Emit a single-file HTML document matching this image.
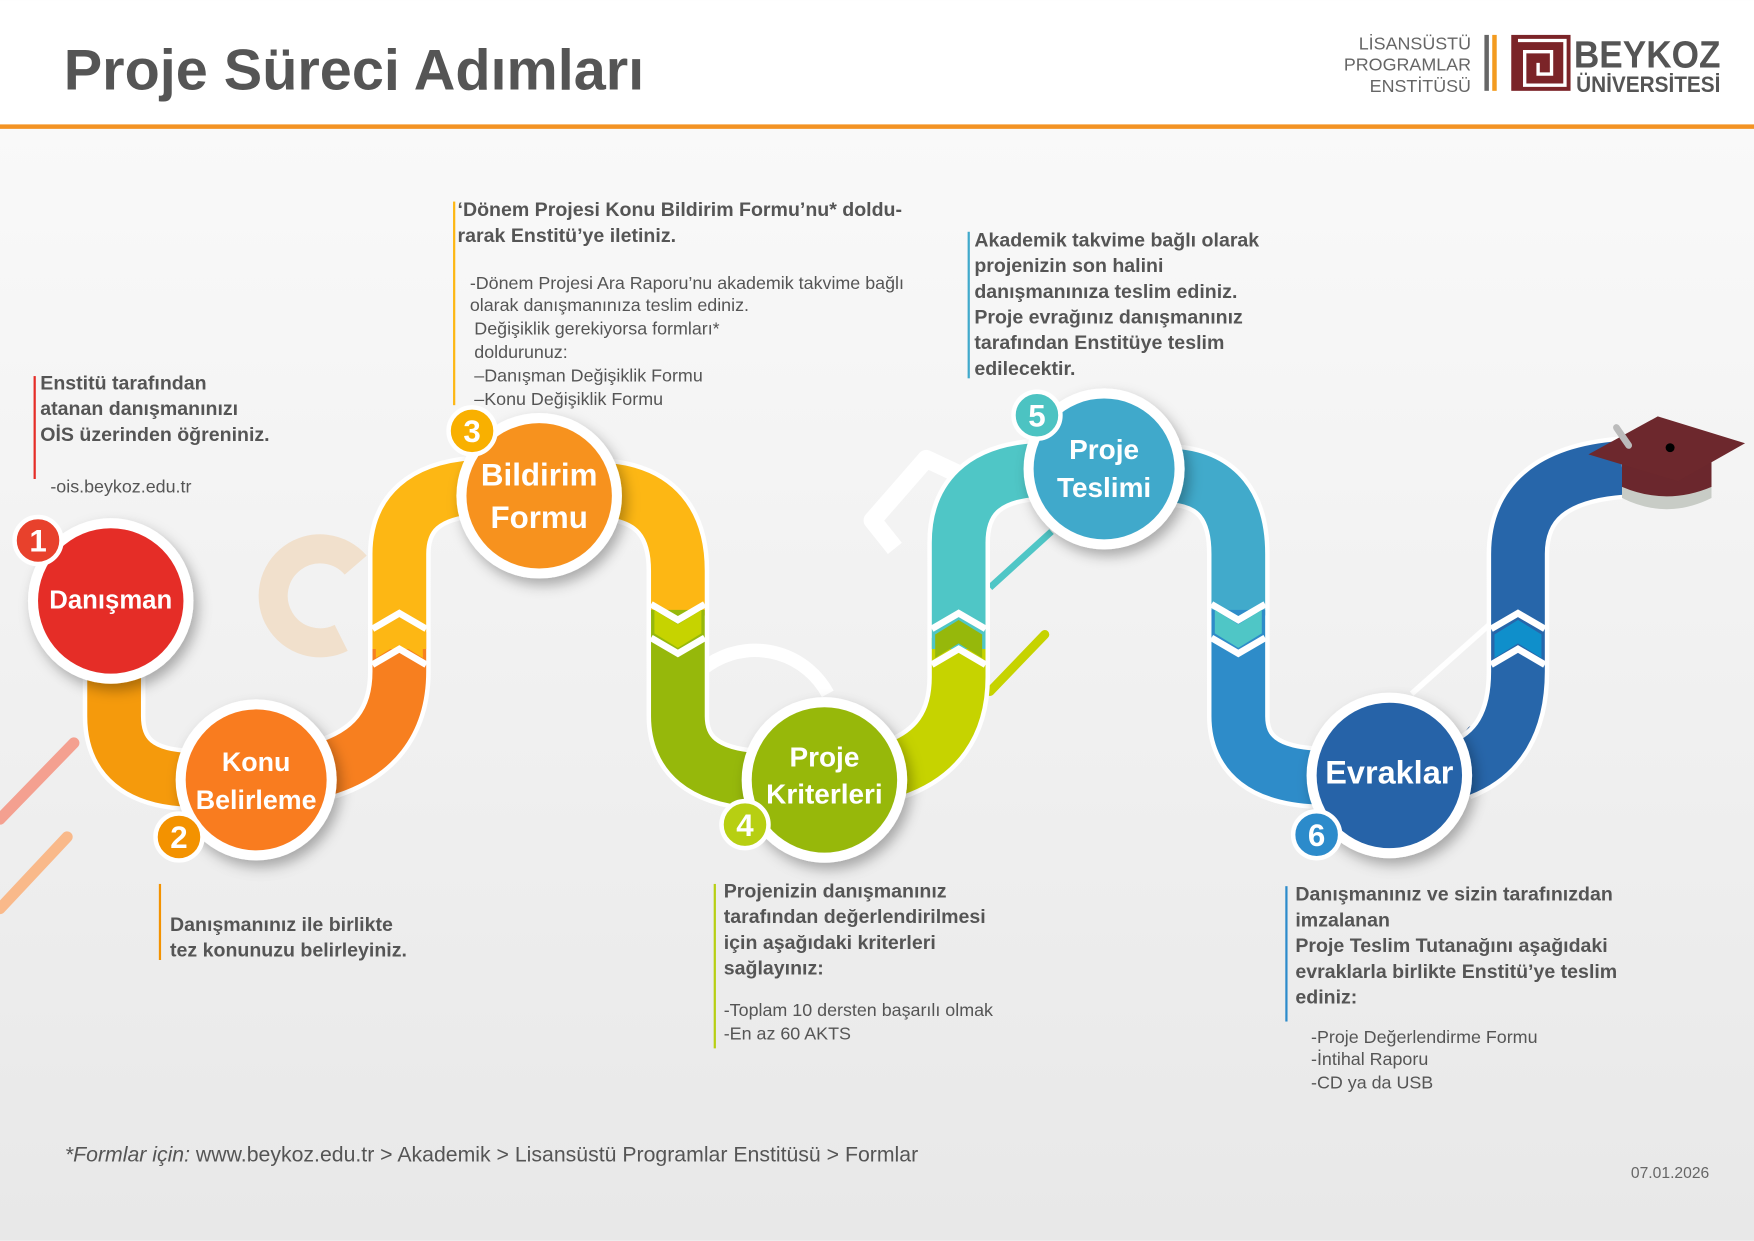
<!DOCTYPE html>
<html><head><meta charset="utf-8"><style>
html,body{margin:0;padding:0;width:1754px;height:1241px;overflow:hidden;background:#fff}
svg{display:block}
text{font-family:"Liberation Sans",sans-serif}
.b{font-weight:bold;fill:#555;font-size:17.5px}
.r{fill:#555;font-size:16px}
.w{fill:#fff;font-weight:bold;text-anchor:middle}
.n{fill:#fff;font-weight:bold;text-anchor:middle;font-size:28px}
</style></head><body>
<svg width="1754" height="1241" viewBox="0 0 1568 1109" xmlns="http://www.w3.org/2000/svg">
<defs>
<linearGradient id="bg" x1="0" y1="0" x2="0" y2="1"><stop offset="0" stop-color="#fbfbfb"/><stop offset="1" stop-color="#e8e8e8"/></linearGradient>
<filter id="sh" x="-30%" y="-30%" width="170%" height="170%"><feDropShadow dx="4" dy="6" stdDeviation="6" flood-color="#000" flood-opacity="0.3"/></filter>
</defs>
<rect x="0" y="0" width="1568" height="1109" fill="url(#bg)"/>
<rect x="0" y="0" width="1568" height="112" fill="#fff"/>
<rect x="0" y="111" width="1568" height="4" fill="#F39323"/>
<text x="57" y="80" font-size="51.5" font-weight="bold" fill="#555">Proje Süreci Adımları</text>
<g font-size="16" fill="#666" text-anchor="end"><text x="1315" y="44">LİSANSÜSTÜ</text><text x="1315" y="63">PROGRAMLAR</text><text x="1315" y="82">ENSTİTÜSÜ</text></g>
<rect x="1327" y="31" width="4" height="50" fill="#666"/><rect x="1334" y="31" width="4" height="50" fill="#F39B1F"/>
<rect x="1351" y="31" width="53" height="50" fill="#7B2428"/>
<path d="M1357 36 h42 v40 h-36 v-30 h24 v20 h-12 v-10" fill="none" stroke="#fff" stroke-width="3"/>
<text x="1407" y="60" font-size="34" font-weight="bold" fill="#555" textLength="131" lengthAdjust="spacingAndGlyphs">BEYKOZ</text>
<text x="1409" y="82" font-size="20" font-weight="bold" fill="#555" textLength="129" lengthAdjust="spacingAndGlyphs">ÜNİVERSİTESİ</text>

<!-- decorations -->
<line x1="0" y1="732" x2="66" y2="664" stroke="#F4A090" stroke-width="10" stroke-linecap="round"/>
<line x1="0" y1="812" x2="60" y2="748" stroke="#F9B98A" stroke-width="10" stroke-linecap="round"/>
<path d="M305 570 A42 42 0 1 1 318 505" fill="none" stroke="#F1E0CC" stroke-width="26"/>
<path d="M610 690 A60 60 0 1 1 740 620" fill="none" stroke="#fff" stroke-width="12"/>
<path d="M800 490 L780 465 L828 410 L860 425" fill="none" stroke="#fff" stroke-width="16" stroke-linejoin="round"/>
<line x1="885" y1="525" x2="940" y2="475" stroke="#4FC6C6" stroke-width="6"/>
<line x1="885" y1="618" x2="934" y2="567" stroke="#C6D300" stroke-width="8" stroke-linecap="round"/>
<line x1="1262" y1="620" x2="1335" y2="555" stroke="#fff" stroke-width="5"/>
<line x1="1305" y1="665" x2="1315" y2="652" stroke="#1F4F8A" stroke-width="6" stroke-linecap="round"/>

<!-- snake outlines -->
<g fill="none" stroke-width="56" stroke="#fff">
<path d="M102 590 V640 Q102 695 170 697"/>
<path d="M288 688 Q357 668 357 600 V495 Q357 440 425 435"/>
<path d="M545 438 Q606 445 606 510 V640 Q606 692 675 697"/>
<path d="M798 688 Q857 668 857 605 V485 Q857 425 925 420"/>
<path d="M1050 425 Q1107 430 1107 495 V640 Q1107 692 1178 695"/>
<path d="M1305 688 Q1357 668 1357 600 V495 Q1357 425 1450 418"/>
</g>
<g fill="none" stroke-width="48">
<path d="M102 590 V640 Q102 695 170 697" stroke="#F59A0C"/>
<path d="M288 688 Q357 668 357 600 V565" stroke="#F77F1F"/>
<path d="M357 580 V495 Q357 440 425 435" stroke="#FDB714"/>
<path d="M545 438 Q606 445 606 510 V550" stroke="#FDB714"/>
<path d="M606 545 V640 Q606 692 675 697" stroke="#96B80B"/>
<path d="M798 688 Q857 668 857 605 V570" stroke="#C6D300"/>
<path d="M857 580 V485 Q857 425 925 420" stroke="#4FC6C6"/>
<path d="M1050 425 Q1107 430 1107 495 V550" stroke="#41AACB"/>
<path d="M1107 545 V640 Q1107 692 1178 695" stroke="#2E8CC9"/>
<path d="M1305 688 Q1357 668 1357 600 V495 Q1357 425 1450 418" stroke="#2766AA"/>
</g>
<!-- chevrons -->
<g fill="none" stroke="#fff" stroke-width="6">
<polyline points="333,562 357,548 381,562"/><polyline points="333,594 357,580 381,594"/>
<polyline points="582,540 606,554 630,540"/><polyline points="582,570 606,584 630,570"/>
<polyline points="833,562 857,548 881,562"/><polyline points="833,594 857,580 881,594"/>
<polyline points="1083,540 1107,554 1131,540"/><polyline points="1083,570 1107,584 1131,570"/>
<polyline points="1333,562 1357,548 1381,562"/><polyline points="1333,594 1357,580 1381,594"/>
</g>
<g stroke="none">
<polygon points="336,567 357,554 378,567 378,588 357,575 336,588" fill="#FDB714"/>
<polygon points="585,545 606,558 627,545 627,566 606,579 585,566" fill="#C6D300"/>
<polygon points="836,567 857,554 878,567 878,588 857,575 836,588" fill="#96B80B"/>
<polygon points="1086,545 1107,558 1128,545 1128,566 1107,579 1086,566" fill="#4FC6C6"/>
<polygon points="1336,567 1357,554 1378,567 1378,588 1357,575 1336,588" fill="#0F8FCB"/>
</g>

<!-- grad cap -->
<path d="M1450 410 L1450 445 Q1490 465 1530 445 L1530 410 Z" fill="#C8CCC6"/>
<path d="M1450 405 L1450 435 Q1490 452 1530 435 L1530 405 Z" fill="#6B272D"/>
<polygon points="1420,406 1482,372 1560,396 1500,430" fill="#6D282D"/>
<circle cx="1493" cy="400" r="4" fill="#000"/>
<path d="M1445 382 L1456 398" stroke="#bbb" stroke-width="6" stroke-linecap="round"/>

<!-- circles -->
<g filter="url(#sh)" fill="#fff">
<circle cx="99" cy="537" r="74"/><circle cx="229" cy="697" r="72"/><circle cx="482" cy="443" r="74"/>
<circle cx="737" cy="697" r="74"/><circle cx="987" cy="419" r="72"/><circle cx="1242" cy="693" r="74"/>
</g>
<circle cx="99" cy="537" r="65" fill="#E52D27"/>
<circle cx="229" cy="697" r="63" fill="#F97C1F"/>
<circle cx="482" cy="443" r="65" fill="#F7921E"/>
<circle cx="737" cy="697" r="65" fill="#97B80A"/>
<circle cx="987" cy="419" r="63" fill="#40A9CB"/>
<circle cx="1242" cy="693" r="65" fill="#2663A8"/>
<text class="w" x="99" y="544" font-size="23">Danışman</text>
<text class="w" x="229" y="689" font-size="24">Konu</text><text class="w" x="229" y="723" font-size="24">Belirleme</text>
<text class="w" x="482" y="434" font-size="28">Bildirim</text><text class="w" x="482" y="472" font-size="28">Formu</text>
<text class="w" x="737" y="685" font-size="25">Proje</text><text class="w" x="737" y="718" font-size="25">Kriterleri</text>
<text class="w" x="987" y="410" font-size="25">Proje</text><text class="w" x="987" y="444" font-size="25">Teslimi</text>
<text class="w" x="1242" y="700" font-size="29">Evraklar</text>

<!-- badges -->
<g stroke="#fff" stroke-width="4">
<circle cx="34" cy="483" r="21" fill="#E8412C"/><circle cx="160" cy="748" r="21" fill="#F39200"/>
<circle cx="422" cy="385" r="21" fill="#F9B000"/><circle cx="666" cy="737" r="21" fill="#B7CF12"/>
<circle cx="927" cy="371" r="21" fill="#4CC3C2"/><circle cx="1177" cy="746" r="21" fill="#2C8BCB"/>
</g>
<text class="n" x="34" y="493">1</text><text class="n" x="160" y="758">2</text><text class="n" x="422" y="395">3</text>
<text class="n" x="666" y="747">4</text><text class="n" x="927" y="381">5</text><text class="n" x="1177" y="756">6</text>

<!-- text blocks -->
<rect x="30" y="336" width="2" height="92" fill="#E52D27"/>
<text class="b" x="36" y="348">Enstitü tarafından</text><text class="b" x="36" y="371">atanan danışmanınızı</text><text class="b" x="36" y="394">OİS üzerinden öğreniniz.</text>
<text class="r" x="45" y="440">-ois.beykoz.edu.tr</text>

<rect x="142" y="790" width="2" height="68" fill="#F39200"/>
<text class="b" x="152" y="832">Danışmanınız ile birlikte</text><text class="b" x="152" y="855">tez konunuzu belirleyiniz.</text>

<rect x="405" y="180" width="2" height="182" fill="#FDB714"/>
<text class="b" x="409" y="193">‘Dönem Projesi Konu Bildirim Formu’nu* doldu-</text>
<text class="b" x="409" y="216">rarak Enstitü’ye iletiniz.</text>
<text class="r" x="420" y="258">-Dönem Projesi Ara Raporu’nu akademik takvime bağlı</text>
<text class="r" x="420" y="278">olarak danışmanınıza teslim ediniz.</text>
<text class="r" x="424" y="299">Değişiklik gerekiyorsa formları*</text>
<text class="r" x="424" y="320">doldurunuz:</text>
<text class="r" x="424" y="341">–Danışman Değişiklik Formu</text>
<text class="r" x="424" y="362">–Konu Değişiklik Formu</text>

<rect x="865" y="207" width="2" height="131" fill="#40A9CB"/>
<text class="b" x="871" y="220">Akademik takvime bağlı olarak</text>
<text class="b" x="871" y="243">projenizin son halini</text>
<text class="b" x="871" y="266">danışmanınıza  teslim ediniz.</text>
<text class="b" x="871" y="289">Proje evrağınız danışmanınız</text>
<text class="b" x="871" y="312">tarafından Enstitüye teslim</text>
<text class="b" x="871" y="335">edilecektir.</text>

<rect x="638" y="790" width="2" height="147" fill="#B7CF12"/>
<text class="b" x="647" y="802">Projenizin danışmanınız</text>
<text class="b" x="647" y="825">tarafından değerlendirilmesi</text>
<text class="b" x="647" y="848">için aşağıdaki kriterleri</text>
<text class="b" x="647" y="871">sağlayınız:</text>
<text class="r" x="647" y="908">-Toplam 10 dersten başarılı olmak</text>
<text class="r" x="647" y="929">-En az 60 AKTS</text>

<rect x="1149" y="792" width="2" height="121" fill="#2C8BCB"/>
<text class="b" x="1158" y="805">Danışmanınız ve sizin tarafınızdan</text>
<text class="b" x="1158" y="828">imzalanan</text>
<text class="b" x="1158" y="851">Proje  Teslim Tutanağını aşağıdaki</text>
<text class="b" x="1158" y="874">evraklarla birlikte Enstitü’ye teslim</text>
<text class="b" x="1158" y="897">ediniz:</text>
<text class="r" x="1172" y="932">-Proje Değerlendirme Formu</text>
<text class="r" x="1172" y="952">-İntihal Raporu</text>
<text class="r" x="1172" y="973">-CD ya da USB</text>

<text x="58" y="1038" font-size="19" fill="#555"><tspan font-style="italic">*Formlar için:</tspan> www.beykoz.edu.tr &gt; Akademik &gt; Lisansüstü Programlar Enstitüsü &gt; Formlar</text>
<text x="1528" y="1053" font-size="14" fill="#666" text-anchor="end">07.01.2026</text>
</svg>
</body></html>
